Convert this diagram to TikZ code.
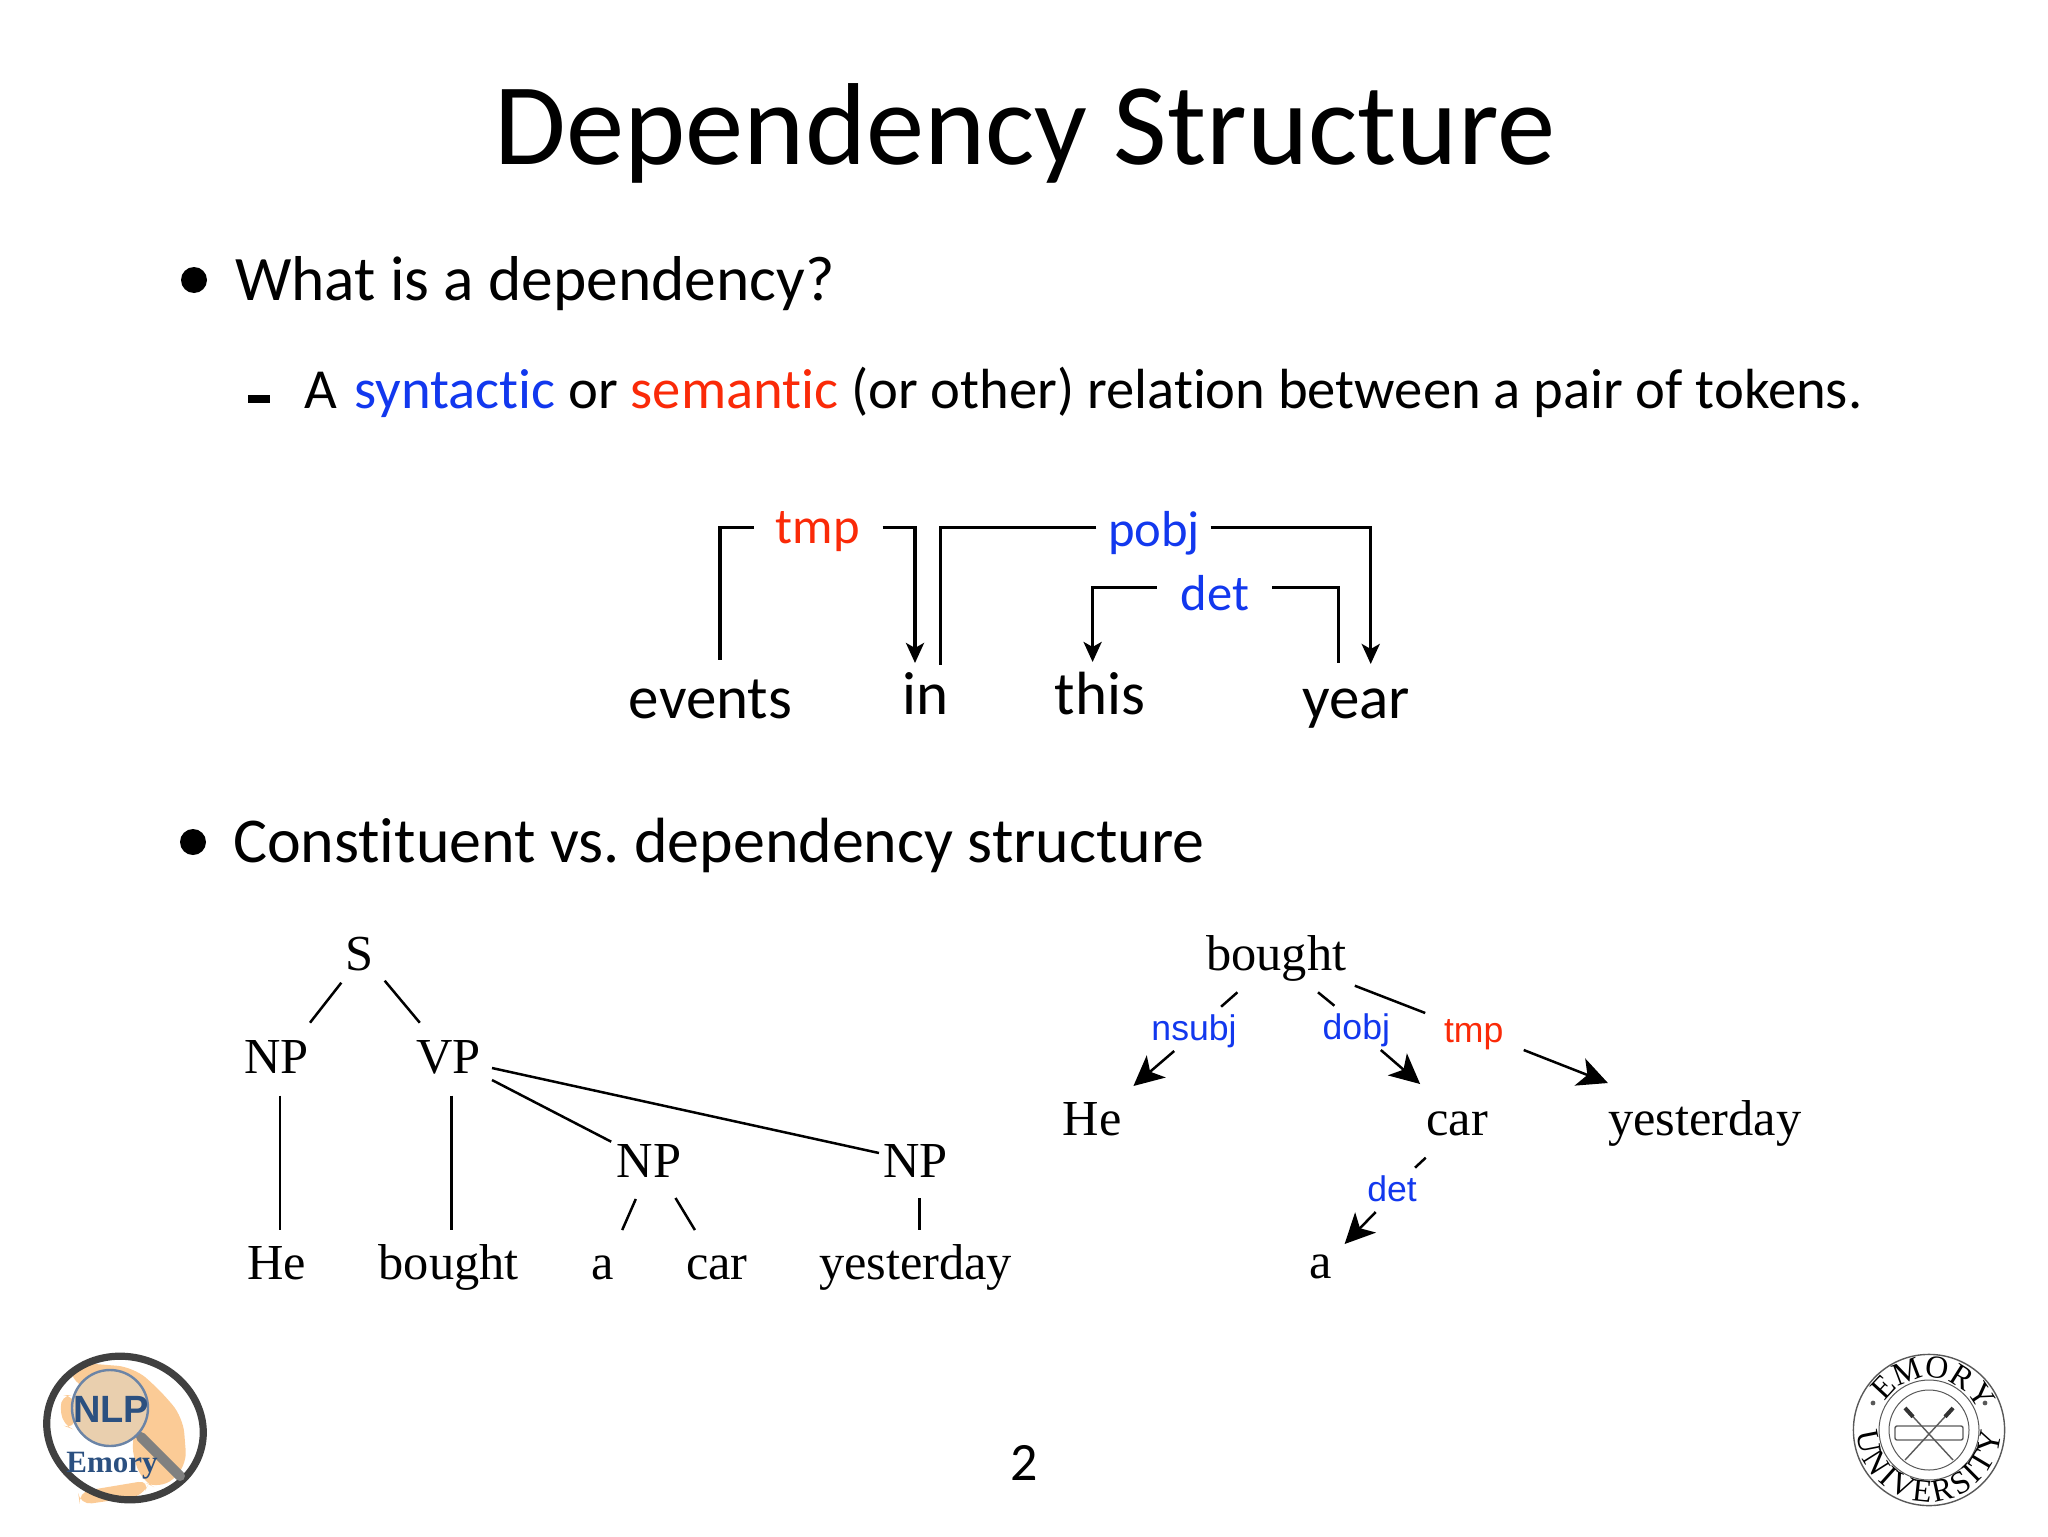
\documentclass[tikz,border=0pt]{standalone}
\usepackage{fontspec}
\setmainfont[Ligatures=NoCommon]{Carlito}
\newfontfamily\treefont{Liberation Serif}
\newfontfamily\relfont{Liberation Sans}
\usetikzlibrary{arrows.meta,positioning,calc,decorations.text}
\definecolor{synblue}{HTML}{1238EE}
\definecolor{semred}{HTML}{FA2A08}
\definecolor{logopeach}{HTML}{FBCB96}
\definecolor{logolens}{HTML}{E9CFAE}
\definecolor{logoblue}{HTML}{2B5080}
\frenchspacing

\begin{document}
\begin{tikzpicture}[
    x=0.5pt, y=-0.5pt,
    on grid,
    inner sep=0pt, outer sep=0pt,
    slidetitle/.style={anchor=base, font=\fontsize{58.3}{60}\selectfont},
    body/.style={anchor=base west, font=\fontsize{31.7}{36}\selectfont},
    subbody/.style={anchor=base west, font=\fontsize{28.3}{32}\selectfont},
    word/.style={anchor=base, font=\fontsize{30.5}{32}\selectfont},
    deplabel/.style={anchor=base, font=\fontsize{25.3}{28}\selectfont},
    tree/.style={font=\treefont\fontsize{25.2}{28}\selectfont, text height=17pt, text depth=5pt},
    rel/.style={font=\relfont\fontsize{17.8}{20}\selectfont, text height=13pt, text depth=4pt},
    depline/.style={line width=1.7pt},
    deparrow/.style={depline, -{Stealth[length=10pt,width=9pt,inset=2.5pt]}},
    branch/.style={line width=1.25pt},
    relarrow/.style={branch, -{Stealth[length=15pt,width=14.5pt,inset=4pt]}}
]
    \useasboundingbox (0,0) rectangle (2048,1536);

    % slide text
    \node[slidetitle] (title) at (1025,164) {Dependency Structure};
    \node[circle, fill=black, minimum size=13pt] (bulletA) at (194,280) {};
    \node[body] (whatis) at (235,300) {What is a dependency?};
    \node[fill=black, minimum width=11pt, minimum height=4pt] (dashA) at (259,399) {};
    \node[subbody] (relation) at (304,408) {A\hspace{2.5pt} {\color{synblue}syntactic} or {\color{semred}semantic} (or other) relation between a pair of tokens.};
    \node[circle, fill=black, minimum size=13pt] (bulletB) at (193,842) {};
    \node[body, font=\fontsize{31.95}{36}\selectfont] (versus) at (233,862) {Constituent vs. dependency structure};

    % events in this year
    \node[word] (events) at (710.5,718) {events};
    \node[word] (in) at (925.5,714) {in};
    \node[word] (this) at (1100,714) {this};
    \node[word] (year) at (1356,718) {year};
    \node[deplabel, text=semred] (tmpA) at (817.7,543) {tmp};
    \node[deplabel, text=synblue] (pobjA) at (1154,546) {pobj};
    \node[deplabel, text=synblue] (detA) at (1215,610) {det};

    \draw[depline] ($(tmpA.base)+(-64,-15.3)$) -| ($(events.base)+(9.5,-58)$);
    \draw[deparrow] ($(tmpA.base)+(64.8,-15.3)$) -| ($(in.base)+(-10.5,-51)$);
    \draw[depline] ($(pobjA.base)+(-57.6,-18.3)$) -| ($(in.base)+(15.1,-49)$);
    \draw[deparrow] ($(pobjA.base)+(56.5,-18.3)$) -| ($(year.base)+(14.7,-54)$);
    \draw[deparrow] ($(detA.base)+(-58.2,-22.3)$) -| ($(this.base)+(-7.4,-52)$);
    \draw[depline] ($(detA.base)+(57,-22.3)$) -| ($(year.base)+(-17.7,-55)$);

    % constituent tree
    \node[tree] (S) at (360,958) {S};
    \node[tree, below left=51.5pt and 41.75pt of S] (npHe) {NP};
    \node[tree, below right=51.5pt and 44.3pt of S] (vp) {VP};
    \node[tree, below right=52pt and 100.15pt of vp] (npCar) {NP};
    \node[tree, right=133.35pt of npCar] (npYest) {NP};
    \node[tree, below=103pt of npHe] (leafHe) {He};
    \node[tree, below=103pt of vp] (leafBought) {bought};
    \node[tree, below left=51pt and 23.05pt of npCar] (leafA) {a};
    \node[tree, below right=51pt and 34pt of npCar] (leafCar) {car};
    \node[tree, below=51pt of npYest] (leafYest) {yesterday};

    \draw[branch] ($(S)+(-18.7,24.7)$) -- ($(npHe)+(33.5,-38.3)$);
    \draw[branch] ($(S)+(24.7,22.7)$) -- ($(vp)+(-28.8,-38.3)$);
    \draw[branch] ($(npHe)+(3.5,34.7)$) -- ($(leafHe)+(3.5,-37)$);
    \draw[branch] ($(vp)+(3.1,34.7)$) -- ($(leafBought)+(3.1,-37)$);
    \draw[branch] ($(vp)+(43.4,7)$) -- ($(npYest)+(-36.6,-12)$);
    \draw[branch] ($(vp)+(43.4,19)$) -- ($(npCar)+(-37.7,-23.3)$);
    \draw[branch] ($(npCar)+(-13.1,34)$) -- ($(leafA)+(19.4,-37)$);
    \draw[branch] ($(npCar)+(26.6,33)$) -- ($(leafCar)+(-22,-37)$);
    \draw[branch] ($(npYest)+(3.7,33)$) -- ($(leafYest)+(3.7,-37)$);

    % dependency tree
    \node[tree] (headBought) at (1276.2,958) {bought};
    \node[tree, below left=82.5pt and 92.1pt of headBought] (depHe) {He};
    \node[tree, below right=82.5pt and 90.55pt of headBought] (depCar) {car};
    \node[tree, right=123.75pt of depCar] (depYest) {yesterday};
    \node[tree, below left=71.5pt and 68.35pt of depCar] (depA) {a};
    \node[rel, text=synblue, below left=36.5pt and 41.1pt of headBought] (nsubj) {nsubj};
    \node[rel, text=synblue, below right=36pt and 40.05pt of headBought] (dobj) {dobj};
    \node[rel, text=semred, below right=37.5pt and 98.75pt of headBought] (tmpB) {tmp};
    \node[rel, text=synblue, below left=34.5pt and 32.65pt of depCar] (detB) {det};

    \draw[branch] ($(headBought)+(-38.8,34.3)$) -- ($(nsubj)+(27.1,-24.3)$);
    \draw[relarrow] ($(nsubj)+(-19.8,20)$) -- ($(depHe)+(41.4,-37)$);
    \draw[branch] ($(headBought)+(41.8,34.3)$) -- ($(dobj)+(-21.9,-24.3)$);
    \draw[relarrow] ($(dobj)+(24.5,20)$) -- ($(depCar)+(-37.2,-39)$);
    \draw[branch] ($(headBought)+(78.6,27.7)$) -- ($(tmpB)+(-48.5,-20)$);
    \draw[relarrow] ($(tmpB)+(50,17)$) -- ($(depYest)+(-96.9,-40)$);
    \draw[branch] ($(depCar)+(-31.6,34.7)$) -- ($(detB)+(23,-24.3)$);
    \draw[relarrow] ($(detB)+(-16.3,20)$) -- ($(depA)+(24,-22)$);

    \node[anchor=base, font=\fontsize{27}{30}\selectfont] (pageno) at (1024,1480) {2};

    % left logo
    \fill[logopeach, rounded corners=8pt] (70,1362) -- (133,1367) -- (157,1387) -- (183,1417) -- (187,1467) -- (160,1490) -- (140,1480) -- (130,1440) -- (150,1400) -- (72,1385) -- cycle;
    \fill[logopeach, rounded corners=6pt] (60,1395) -- (75,1395) -- (75,1430) -- (62,1425) -- cycle;
    \fill[logopeach, rounded corners=6pt] (78,1492) -- (150,1480) -- (143,1496) -- (80,1505) -- cycle;
    \draw[line width=3.6pt, black!75] (125,1428) ellipse [x radius=79, y radius=71, rotate=-18];
    \draw[line width=5pt, black!50, line cap=round] (141,1437) -- (180,1476);
    \draw[line width=1.2pt, fill=logolens, draw=logoblue!70] (110,1408) circle [radius=38];
    \node[font=\relfont\bfseries\fontsize{19}{22}\selectfont, text=logoblue] (nlpmark) at (111,1409) {NLP};
    \node[font=\treefont\bfseries\fontsize{15.5}{18}\selectfont, text=logoblue] (emorymark) at (112,1466) {Emory};

    % right seal
    \begin{scope}[shift={(1929,1430)}, x=1pt, y=1pt, black!65, line width=0.7pt]
        \draw (0,0) circle [radius=37.8];
        \draw[line width=0.5pt] (0,0) circle [radius=25];
        \draw[line width=0.5pt] (0,0) circle [radius=20];
        \fill (-28,13.5) circle [radius=1.2];
        \fill (28,13.5) circle [radius=1.2];
        \draw (-12,-15) -- (12,11);
        \draw (12,-15) -- (-12,11);
        \draw[line width=2pt, black!80] (-12,11) -- (-8,6.6);
        \draw[line width=2pt, black!80] (12,11) -- (8,6.6);
        \draw[rounded corners=1pt] (-17,-5) rectangle (17,2);
        \path[decorate, decoration={text along path, text align=fit to path,
            text={|\treefont\fontsize{16}{18}\selectfont|EMORY}}]
            (148:26) arc [start angle=148, end angle=32, radius=26];
        \path[decorate, decoration={text along path, text align=fit to path,
            text={|\treefont\fontsize{16}{18}\selectfont|UNIVERSITY}}]
            (182:36) arc [start angle=182, end angle=358, radius=36];
    \end{scope}
\end{tikzpicture}
\end{document}
